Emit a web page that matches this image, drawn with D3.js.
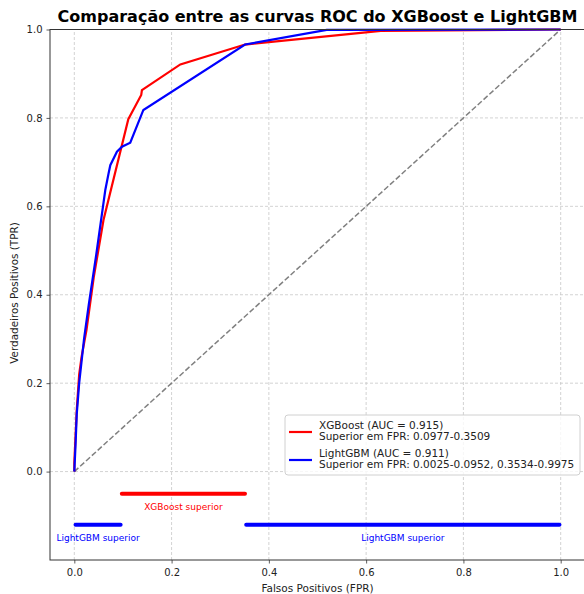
<!DOCTYPE html>
<html>
<head>
<meta charset="utf-8">
<script src="https://cdn.jsdelivr.net/npm/d3@7"></script>
<style>
    body { margin: 0; background: #fff; }
    text { font-family: "DejaVu Sans", sans-serif; }
</style>
</head>
<body>
<script>
// ROC points
const xgbFpr = [0, 0, 0.005, 0.01, 0.015, 0.025, 0.04, 0.06, 0.111, 0.1376, 0.139, 0.218, 0.351, 0.63, 1];
const xgbTpr = [0, 0.02, 0.14, 0.22, 0.26, 0.32, 0.44, 0.569, 0.797, 0.852, 0.863, 0.921, 0.966, 0.997, 1];
const lgbFpr = [0, 0.0025, 0.005, 0.01, 0.02, 0.03, 0.045, 0.0637, 0.0705, 0.074, 0.0876, 0.098, 0.115, 0.142, 0.351, 0.519, 1];
const lgbTpr = [0, 0.06, 0.13, 0.2, 0.3, 0.38, 0.49, 0.637, 0.675, 0.693, 0.7235, 0.735, 0.744, 0.818, 0.966, 0.999, 1];

const xTicks = [0, 0.2, 0.4, 0.6, 0.8, 1.0];
const yTicks = [0, 0.2, 0.4, 0.6, 0.8, 1.0];

const legendLabels = [
    ["XGBoost (AUC = 0.915)", "Superior em FPR: 0.0977-0.3509"],
    ["LightGBM (AUC = 0.911)", "Superior em FPR: 0.0025-0.0952, 0.3534-0.9975"]
];

// regions where one model beats the other
const superiorRanges = [
    {model: "XGBoost", start: 0.0977, end: 0.3509, level: -0.05},
    {model: "LightGBM", start: 0.0025, end: 0.0952, level: -0.12},
    {model: "LightGBM", start: 0.3534, end: 0.9975, level: -0.12}
];

const colors = {"XGBoost": "red", "LightGBM": "blue"};

const svg = d3.select("body").append("svg")
    .attr("width", 584)
    .attr("height", 594);

const x = d3.scaleLinear().domain([-0.05, 1.05]).range([50, 585]);
const y = d3.scaleLinear().domain([-0.2, 1.0]).range([560, 29.5]);

// grid
svg.append("g")
    .selectAll("line.vgrid")
    .data(xTicks)
    .enter()
    .append("line")
    .attr("x1", d => x(d)).attr("x2", d => x(d))
    .attr("y1", y(-0.2)).attr("y2", y(1.0))
    .attr("stroke", "#c8c8c8")
    .attr("stroke-width", 0.8)
    .attr("stroke-dasharray", "3,2");
svg.append("g")
    .selectAll("line.hgrid")
    .data(yTicks)
    .enter()
    .append("line")
    .attr("x1", x(-0.05)).attr("x2", x(1.05))
    .attr("y1", d => y(d)).attr("y2", d => y(d))
    .attr("stroke", "#c8c8c8")
    .attr("stroke-width", 0.8)
    .attr("stroke-dasharray", "3,2");

// diagonal reference
svg.append("line")
    .attr("x1", x(0)).attr("y1", y(0))
    .attr("x2", x(1)).attr("y2", y(1))
    .attr("stroke", "gray")
    .attr("stroke-width", 1.5)
    .attr("stroke-dasharray", "5.5,2.4");

const line = d3.line().x(d => x(d[0])).y(d => y(d[1]));

svg.append("path")
    .datum(xgbFpr.map((f, i) => [f, xgbTpr[i]]))
    .attr("d", line)
    .attr("fill", "none")
    .attr("stroke", colors.XGBoost)
    .attr("stroke-width", 2.2);
svg.append("path")
    .datum(lgbFpr.map((f, i) => [f, lgbTpr[i]]))
    .attr("d", line)
    .attr("fill", "none")
    .attr("stroke", colors.LightGBM)
    .attr("stroke-width", 2.2);

// superiority bars + labels under them
svg.selectAll("line.range")
    .data(superiorRanges)
    .enter()
    .append("line")
    .attr("x1", d => x(d.start)).attr("x2", d => x(d.end))
    .attr("y1", d => y(d.level)).attr("y2", d => y(d.level))
    .attr("stroke", d => colors[d.model])
    .attr("stroke-width", 4)
    .attr("stroke-linecap", "round");

svg.selectAll("text.range")
    .data(superiorRanges)
    .enter()
    .append("text")
    .attr("x", d => x((d.start + d.end) / 2))
    .attr("y", d => y(d.level - 0.03) + 0.5)
    .attr("text-anchor", "middle")
    .attr("dominant-baseline", "middle")
    .style("font-size", "9px")
    .attr("fill", d => colors[d.model])
    .text(d => d.model + " superior");

// axes
const xAxis = d3.axisBottom(x).tickValues(xTicks).tickFormat(d3.format(".1f")).tickSize(3.5).tickSizeOuter(0);
const yAxis = d3.axisLeft(y).tickValues(yTicks).tickFormat(d3.format(".1f")).tickSize(3.5).tickSizeOuter(0);

const gx = svg.append("g").attr("transform", `translate(0, ${y(-0.2)})`).call(xAxis);
const gy = svg.append("g").attr("transform", `translate(${x(-0.05)}, 0)`).call(yAxis);
[gx, gy].forEach(g => {
    g.select(".domain").remove();
    g.selectAll("line").attr("stroke", "#333").attr("stroke-width", 0.8);
    g.selectAll("text").style("font-size", "10px").attr("fill", "#222")
        .style("font-family", "DejaVu Sans, sans-serif");
});
gx.selectAll("text").attr("dy", "0.95em");
gy.selectAll("text").attr("dx", "-0.1em");

// frame
svg.append("rect")
    .attr("x", x(-0.05)).attr("y", y(1.0))
    .attr("width", x(1.05) - x(-0.05))
    .attr("height", y(-0.2) - y(1.0))
    .attr("fill", "none")
    .attr("stroke", "#333")
    .attr("stroke-width", 1);

// legend
const legend = svg.append("g").attr("transform", "translate(285, 415)");
legend.append("rect")
    .attr("width", 295).attr("height", 60)
    .attr("rx", 3)
    .attr("fill", "white").attr("fill-opacity", 0.8)
    .attr("stroke", "#d0d0d0");
legendLabels.forEach((lines, i) => {
    const model = i === 0 ? "XGBoost" : "LightGBM";
    legend.append("line")
        .attr("x1", 4).attr("x2", 27)
        .attr("y1", 17 + i * 28).attr("y2", 17 + i * 28)
        .attr("stroke", colors[model])
        .attr("stroke-width", 2.2);
    lines.forEach((t, j) => {
        legend.append("text")
            .attr("x", 34)
            .attr("y", 13.5 + i * 28 + j * 11)
            .style("font-size", "10.5px")
            .attr("fill", "#222")
            .text(t);
    });
});

// titles
svg.append("text")
    .attr("x", 317.5)
    .attr("y", 21.5)
    .attr("text-anchor", "middle")
    .style("font-size", "16px")
    .style("font-weight", "bold")
    .text("Comparação entre as curvas ROC do XGBoost e LightGBM");
svg.append("text")
    .attr("x", 317.5)
    .attr("y", 592)
    .attr("text-anchor", "middle")
    .style("font-size", "10.5px")
    .attr("fill", "#222")
    .text("Falsos Positivos (FPR)");
svg.append("text")
    .attr("transform", "translate(18, 293) rotate(-90)")
    .attr("text-anchor", "middle")
    .style("font-size", "10.4px")
    .attr("fill", "#222")
    .text("Verdadeiros Positivos (TPR)");
</script>
</body>
</html>
